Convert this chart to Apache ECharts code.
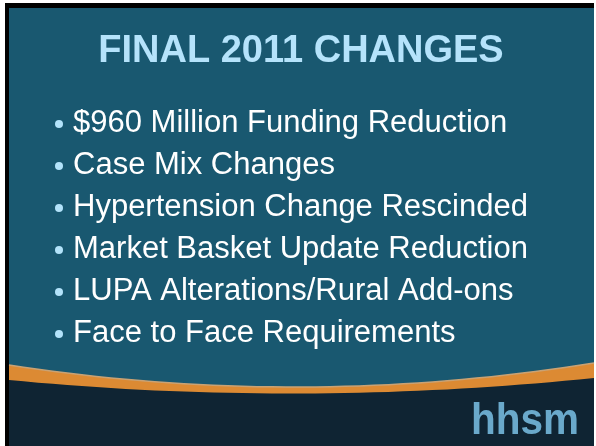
<!DOCTYPE html>
<html>
<head>
<meta charset="utf-8">
<script src="https://cdn.jsdelivr.net/npm/echarts@6/dist/echarts.min.js"></script>
<style>
  html, body { margin: 0; padding: 0; background: #ffffff; }
  #main { width: 596px; height: 446px; }
</style>
</head>
<body>
<div id="main"></div>
<script>
// slide text
var titleText = "FINAL 2011 CHANGES";
var bulletItems = [
	"$960 Million Funding Reduction",
	"Case Mix Changes",
	"Hypertension Change Rescinded",
	"Market Basket Update Reduction",
	"LUPA Alterations/Rural Add-ons",
	"Face to Face Requirements"
];
var logoText = "hhsm";

var chart = echarts.init(document.getElementById("main"), null, { renderer: "canvas" });

var firstBaseline = 132;
var lineStep = 42;

// sample a quadratic curve from p0 through control c to p1
function curve(p0, c, p1) {
	var pts = [];
	for (var i = 0; i <= 40; i++) {
		var t = i / 40, u = 1 - t;
		pts.push([u * u * p0[0] + 2 * u * t * c[0] + t * t * p1[0], u * u * p0[1] + 2 * u * t * c[1] + t * t * p1[1]]);
	}
	return pts;
}

var swooshTop = curve([9, 365], [300, 410], [594, 363]);
var swooshBottom = curve([9, 380], [300, 408], [594, 378]);

var elements = [
	// frame
	{ type: "rect", shape: { x: 5, y: 3, width: 589, height: 443 }, style: { fill: "#000000" } },
	{ type: "rect", shape: { x: 9, y: 8, width: 585, height: 438 }, style: { fill: "#195870" } },
	// orange swoosh and dark footer
	{
		type: "polygon",
		shape: { points: swooshTop.concat([[594, 446], [9, 446]]) },
		style: { fill: "#dc8a33" }
	},
	{
		type: "polyline",
		shape: { points: swooshTop },
		style: { fill: null, stroke: "#c9a274", lineWidth: 1.5 }
	},
	{
		type: "polygon",
		shape: { points: swooshBottom.concat([[594, 446], [9, 446]]) },
		style: { fill: "#0f2433" }
	},
	// title
	{
		type: "text",
		x: 301,
		y: 71,
		style: {
			text: titleText,
			fill: "#b5e3fb",
			font: "bold 38px 'Liberation Sans', Arial, sans-serif",
			textAlign: "center",
			textVerticalAlign: "bottom"
		}
	},
	// logo
	{
		type: "text",
		x: 471,
		y: 444,
		scaleX: 0.9,
		style: {
			text: logoText,
			fill: "#6aa9cb",
			font: "bold 45px 'Liberation Sans', Arial, sans-serif",
			textAlign: "left",
			textVerticalAlign: "bottom"
		}
	}
];

bulletItems.forEach(function (item, i) {
	var base = firstBaseline + i * lineStep;
	elements.push({
		type: "circle",
		shape: { cx: 59, cy: base - 8, r: 4 },
		style: { fill: "#b3e3fa" }
	});
	elements.push({
		type: "text",
		x: 73,
		y: base + 7,
		style: {
			text: item,
			fill: "#ffffff",
			font: "31px 'Liberation Sans', Arial, sans-serif",
			textAlign: "left",
			textVerticalAlign: "bottom"
		}
	});
});

chart.setOption({
	animation: false,
	graphic: { elements: elements }
});
</script>
</body>
</html>
